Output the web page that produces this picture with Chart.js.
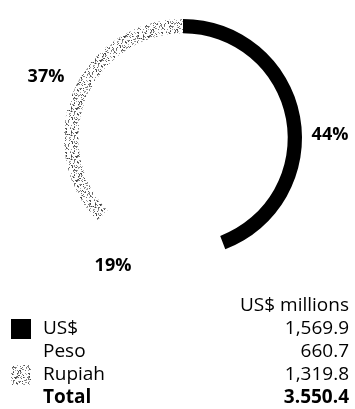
<!DOCTYPE html>
<html>
<head>
<meta charset="utf-8">
<script src="https://cdn.jsdelivr.net/npm/chart.js@4/dist/chart.umd.min.js"></script>
<style>
  html, body { margin: 0; padding: 0; background: #fff; }
  body { width: 355px; height: 409px; position: relative; overflow: hidden; font-family: "Open Sans", "Noto Sans", sans-serif; color: #000; }
  #wrap { position: absolute; left: 0; top: 0; width: 355px; height: 409px; }
  .row { position: absolute; left: 0; width: 355px; height: 23px; line-height: 23px; font-size: 19px; }
  .row .sw { position: absolute; left: 11px; top: 3px; width: 20px; height: 20px; }
  .row .lab { position: absolute; left: 43px; top: 0; }
  .row .val { position: absolute; right: 6px; top: 0; }
  .bold { font-weight: bold; }
</style>
</head>
<body>
<div id="wrap"><canvas id="c"></canvas></div>
<div id="legend"></div>
<script>
// ---- data ----
const categories = ["US$", "Peso", "Rupiah"];
const values = [1569.9, 660.7, 1319.8];
const valueLabels = ["1,569.9", "660.7", "1,319.8"];
const percentLabels = ["44%", "19%", "37%"];
const totalLabel = "Total";
const totalValue = "3.550.4";
const unitLabel = "US$ millions";

// ---- stipple pattern for Rupiah ----
function makeStipple(density, seed) {
  const pc = document.createElement('canvas');
  pc.width = 24; pc.height = 24;
  const g = pc.getContext('2d');
  g.fillStyle = '#fff';
  g.fillRect(0, 0, 24, 24);
  let s = seed;
  function rnd() { s = (s * 1103515245 + 12345) & 0x7fffffff; return s / 0x7fffffff; }
  for (let y = 0; y < 24; y++) {
    for (let x = 0; x < 24; x++) {
      const r = rnd();
      if (r < density) {
        const shade = Math.floor(60 + rnd() * 120);
        g.fillStyle = 'rgb(' + shade + ',' + shade + ',' + shade + ')';
        g.fillRect(x, y, 1, 1);
      }
    }
  }
  return pc;
}
const stippleCanvas = makeStipple(0.30, 12345);
const ctx0 = document.getElementById('c').getContext('2d');
const stipple = ctx0.createPattern(stippleCanvas, 'repeat');
const colors = ['#000000', 'rgba(255,255,255,0)', stipple];
const swatches = ['#000000', null, 'url(' + stippleCanvas.toDataURL() + ')'];

// label offsets (relative to the doughnut center)
const labelOffsets = [[147, -3], [-70, 128], [-137, -61]];

const pctPlugin = {
  id: 'pct',
  afterDatasetsDraw(chart) {
    const meta = chart.getDatasetMeta(0);
    const arc = meta.data[0];
    const cx = arc.x, cy = arc.y;
    const c = chart.ctx;
    c.save();
    c.font = 'bold 18px "Open Sans", "Noto Sans", sans-serif';
    c.fillStyle = '#000';
    c.textAlign = 'center';
    c.textBaseline = 'middle';
    percentLabels.forEach((t, i) => {
      c.fillText(t, cx + labelOffsets[i][0], cy + labelOffsets[i][1]);
    });
    c.restore();
  }
};

new Chart(document.getElementById('c'), {
  type: 'doughnut',
  data: {
    labels: categories,
    datasets: [{
      data: values,
      backgroundColor: colors,
      borderWidth: 0,
      hoverOffset: 0
    }]
  },
  options: {
    responsive: true,
    maintainAspectRatio: false,
    animation: false,
    cutout: '88%',
    layout: { padding: { left: 64, right: 53, top: 19, bottom: 152 } },
    plugins: { legend: { display: false }, tooltip: { enabled: false } }
  },
  plugins: [pctPlugin]
});

// ---- legend table ----
const legend = document.getElementById('legend');
function addRow(top, label, value, sw, bold) {
  const r = document.createElement('div');
  r.className = 'row' + (bold ? ' bold' : '');
  r.style.top = top + 'px';
  if (sw) {
    const s = document.createElement('div');
    s.className = 'sw';
    s.style.background = sw;
    r.appendChild(s);
  }
  if (label) {
    const l = document.createElement('div');
    l.className = 'lab';
    l.textContent = label;
    r.appendChild(l);
  }
  const v = document.createElement('div');
  v.className = 'val';
  v.textContent = value;
  r.appendChild(v);
  legend.appendChild(r);
}
const rowTop = 293, rowStep = 23;
addRow(rowTop, null, unitLabel, null, false);
categories.forEach((c, i) => addRow(rowTop + rowStep * (i + 1), c, valueLabels[i], swatches[i], false));
addRow(rowTop + rowStep * 4, totalLabel, totalValue, null, true);
</script>
</body>
</html>
